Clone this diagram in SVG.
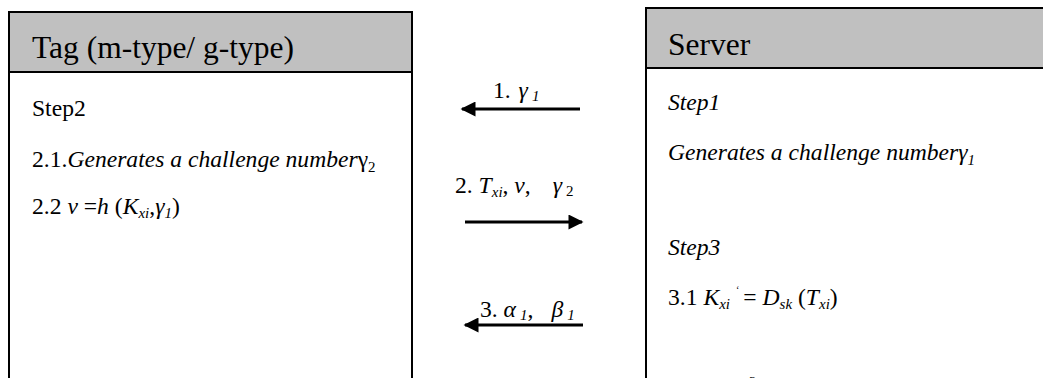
<svg xmlns="http://www.w3.org/2000/svg" width="1043" height="378" viewBox="0 0 1043 378">
<style>
.box{fill:#fff;stroke:#000;stroke-width:2}
.hdr{fill:#c0c0c0;stroke:#000;stroke-width:2}
.t{font-family:"Liberation Serif","Times New Roman",serif;fill:#000}
.h{font-size:31.5px}
.b{font-size:23.6px}
.i{font-style:italic}
.s{font-size:15px}
.arr{stroke:#000;stroke-width:3;fill:none;marker-end:url(#ah)}
</style>
<defs>
<marker id="ah" viewBox="0 0 10 10" refX="9" refY="5" markerWidth="5.5" markerHeight="5" markerUnits="strokeWidth" orient="auto">
<path d="M0,0 L10,5 L0,10 z" fill="#000"/>
</marker>
</defs>
<g id="tag">
<rect class="box" x="9" y="12" width="403" height="380"/>
<rect class="hdr" x="9" y="12" width="403" height="60"/>
<text class="t h" x="32" y="58">Tag (m-type/ g-type)</text>
<text class="t b" x="32" y="116">Step2</text>
<text class="t b" x="32" y="167">2.1.<tspan class="i">Generates a challenge number</tspan>γ<tspan class="s" dy="5">2</tspan></text>
<text class="t b" x="32" y="214">2.2 <tspan class="i">v</tspan> =<tspan class="i">h</tspan> (<tspan class="i">K</tspan><tspan class="i s" dy="4">xi</tspan><tspan dy="-4">,</tspan><tspan class="i">γ</tspan><tspan class="i s" dy="4">1</tspan><tspan dy="-4">)</tspan></text>
</g>
<g id="server">
<rect class="box" x="646" y="8" width="420" height="390"/>
<rect class="hdr" x="646" y="8" width="420" height="60"/>
<text class="t h" x="668" y="55">Server</text>
<text class="t b i" x="668" y="110">Step1</text>
<text class="t b i" x="668" y="160">Generates a challenge numberγ<tspan class="s" dy="5">1</tspan></text>
<text class="t b i" x="668" y="255">Step3</text>
<text class="t b" x="668" y="305">3.1 <tspan class="i">K</tspan><tspan class="i s" dy="4">xi</tspan><tspan font-size="10" dx="6" dy="-16">‘</tspan><tspan dx="4" dy="12">= </tspan><tspan class="i">D</tspan><tspan class="i s" dy="4">sk</tspan><tspan dy="-4"> (</tspan><tspan class="i">T</tspan><tspan class="i s" dy="4">xi</tspan><tspan dy="-4">)</tspan></text>
<text class="t" font-size="15" x="749" y="387">2</text>
</g>
<g id="connectors">
<line class="arr" x1="580" y1="109" x2="462" y2="109"/>
<text class="t b" x="493" y="98">1. <tspan class="i" dx="2">γ</tspan><tspan class="i s" dx="4" dy="3">1</tspan></text>
<line class="arr" x1="465" y1="222" x2="582" y2="222"/>
<text class="t b" x="455" y="193">2. <tspan class="i">T</tspan><tspan class="i s" dy="4">xi</tspan><tspan dy="-4">, </tspan><tspan class="i">v</tspan>,<tspan class="i" dx="22">γ</tspan><tspan class="s" dx="4" dy="3">2</tspan></text>
<line class="arr" x1="583" y1="325" x2="465" y2="325"/>
<text class="t b" x="480" y="317">3. <tspan class="i">α</tspan><tspan class="i s" dx="4" dy="3">1</tspan><tspan dy="-3">,</tspan><tspan class="i" dx="18">β</tspan><tspan class="i s" dx="4" dy="3">1</tspan></text>
</g>
</svg>
